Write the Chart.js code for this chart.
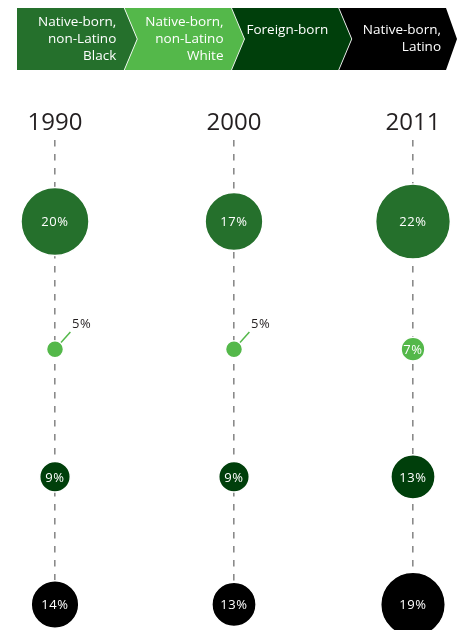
<!DOCTYPE html>
<html><head><meta charset="utf-8">
<script src="https://cdn.jsdelivr.net/npm/chart.js@4"></script>
<style>html,body{margin:0;padding:0;background:#fff;}#wrap{width:466px;height:630px;}</style>
</head><body><div id="wrap"><canvas id="c" width="466" height="630"></canvas></div>
<script>
// ---- data ----
const years = ['1990', '2000', '2011'];
const categories = [
  ['Native-born,', 'non-Latino', 'Black'],
  ['Native-born,', 'non-Latino', 'White'],
  ['Foreign-born'],
  ['Native-born,', 'Latino']
];
const nativeBlack = [20, 17, 22];
const nativeWhite = [5, 5, 7];
const foreignBorn = [9, 9, 13];
const nativeLatino = [14, 13, 19];
const seriesValues = [nativeBlack, nativeWhite, foreignBorn, nativeLatino];

// ---- style ----
const colors = ['#25702C', '#54B84A', '#003F0B', '#000000'];
const headerAlign = ['right', 'right', 'left', 'right'];
const FONT = "'Open Sans', 'Noto Sans', sans-serif";
const RSCALE = 1.7;

const datasets = seriesValues.map((vals, k) => ({
  label: categories[k].join(' '),
  data: vals.map((v, i) => ({ x: years[i], y: k, r: v * RSCALE, v })),
  backgroundColor: colors[k],
  borderColor: '#ffffff',
  borderWidth: 1.5,
  hoverBorderWidth: 1.5,
  clip: false
}));

const headerPlugin = {
  id: 'header',
  afterDraw(chart) {
    const ctx = chart.ctx;
    const left = 17, right = 446, top = 8, bottom = 70, mid = 39, tip = 13;
    const n = categories.length;
    const w = (right - left) / n;
    ctx.save();
    for (let k = 0; k < n; k++) {
      const x0 = left + k * w, x1 = left + (k + 1) * w;
      const t = k === n - 1 ? 11 : tip;
      ctx.beginPath();
      ctx.moveTo(x0, top);
      ctx.lineTo(x1, top);
      ctx.lineTo(x1 + t, mid);
      ctx.lineTo(x1, bottom);
      ctx.lineTo(x0, bottom);
      if (k > 0) ctx.lineTo(x0 + tip, mid);
      ctx.closePath();
      ctx.fillStyle = colors[k];
      ctx.fill();
      if (k > 0) {
        ctx.beginPath();
        ctx.moveTo(x0, top); ctx.lineTo(x0 + tip, mid); ctx.lineTo(x0, bottom);
        ctx.strokeStyle = 'rgba(255,255,255,0.85)';
        ctx.lineWidth = 1;
        ctx.stroke();
      }
      const lines = categories[k];
      const lh = 16.7;
      const y0 = lines.length === 1 ? 30.5 : mid - (lines.length - 1) * lh / 2;
      ctx.fillStyle = '#ffffff';
      ctx.font = '13.5px ' + FONT;
      ctx.textBaseline = 'middle';
      ctx.textAlign = headerAlign[k];
      const tx = headerAlign[k] === 'right' ? x1 - (k === n - 1 ? 5 : 8) : x0 + tip + 2;
      lines.forEach((ln, j) => ctx.fillText(ln, tx, y0 + j * lh));
    }
    ctx.restore();
  }
};

const labelPlugin = {
  id: 'bubbleLabels',
  afterDatasetsDraw(chart) {
    const ctx = chart.ctx;
    ctx.save();
    ctx.letterSpacing = '0.6px';
    chart.data.datasets.forEach((ds, k) => {
      const meta = chart.getDatasetMeta(k);
      meta.data.forEach((el, i) => {
        const v = ds.data[i].v;
        const r = ds.data[i].r;
        const txt = v + '%';
        if (r < 10) {
          const a = -48 * Math.PI / 180;
          ctx.beginPath();
          ctx.moveTo(el.x + Math.cos(a) * (r + 0.5), el.y + Math.sin(a) * (r + 0.5));
          ctx.lineTo(el.x + Math.cos(a) * 23, el.y + Math.sin(a) * 23);
          ctx.strokeStyle = colors[k];
          ctx.lineWidth = 1.5;
          ctx.stroke();
          ctx.fillStyle = '#231f20';
          ctx.font = '13px ' + FONT;
          ctx.textAlign = 'left';
          ctx.textBaseline = 'middle';
          ctx.fillText(txt, el.x + 17, el.y - 25);
        } else {
          ctx.fillStyle = '#ffffff';
          ctx.font = '13px ' + FONT;
          ctx.textAlign = 'center';
          ctx.textBaseline = 'middle';
          ctx.fillText(txt, el.x, el.y + 1);
        }
      });
    });
    ctx.restore();
  }
};

new Chart(document.getElementById('c'), {
  type: 'bubble',
  data: { labels: years, datasets },
  plugins: [headerPlugin, labelPlugin],
  options: {
    responsive: false,
    animation: false,
    devicePixelRatio: 1,
    events: [],
    layout: { autoPadding: false, padding: { top: 107, left: 55, right: 53, bottom: 0 } },
    plugins: { legend: { display: false }, tooltip: { enabled: false } },
    scales: {
      x: {
        type: 'category',
        labels: years,
        position: 'top',
        offset: false,
        grid: { display: true, color: '#8a8a8a', lineWidth: 1.6, drawTicks: false, drawOnChartArea: true },
        border: { display: false, dash: [6.5, 7.5] },
        ticks: { color: '#231f20', padding: 2, font: { family: FONT, size: 24 } }
      },
      y: {
        type: 'linear',
        display: false,
        reverse: true,
        min: -0.64,
        max: 3.2
      }
    }
  }
});
</script>
</body></html>
